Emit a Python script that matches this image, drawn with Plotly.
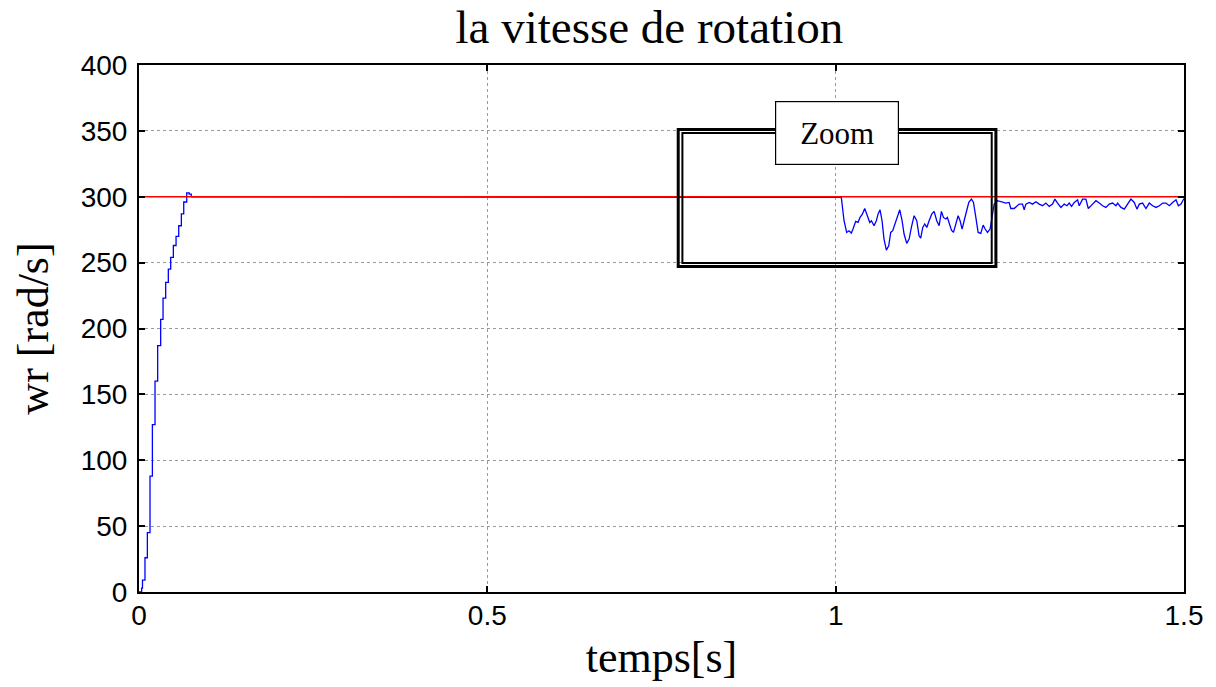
import plotly.graph_objects as go

# ---- data ----
rise_t = [0.0, 0.0038, 0.0050, 0.0086, 0.0120, 0.0158, 0.0192, 0.0230, 0.0268, 0.0311,
          0.0345, 0.0383, 0.0421, 0.0455, 0.0493, 0.0532, 0.0570, 0.0608, 0.0642, 0.0685,
          0.0720, 0.0750]
rise_v = [0, 3, 9, 26, 45, 88, 127, 160, 187, 207,
          223, 235, 245, 254, 263, 270, 278, 287, 296, 303,
          302, 300]

dist_t = [0.0750, 1.0000, 1.0048, 1.0081, 1.0120, 1.0158, 1.0192, 1.0225, 1.0249, 1.0287,
          1.0321, 1.0350, 1.0383, 1.0417, 1.0455, 1.0489, 1.0513, 1.0551, 1.0584, 1.0608,
          1.0637, 1.0666, 1.0694, 1.0728, 1.0762, 1.0790, 1.0819, 1.0848, 1.0886, 1.0920,
          1.0953, 1.0982, 1.1020, 1.1054, 1.1087, 1.1126, 1.1164, 1.1197, 1.1221, 1.1250,
          1.1279, 1.1308, 1.1341, 1.1379, 1.1413, 1.1451, 1.1485, 1.1518, 1.1547, 1.1581,
          1.1604, 1.1633, 1.1662, 1.1691, 1.1724, 1.1758, 1.1786, 1.1815, 1.1844, 1.1878,
          1.1911, 1.1949, 1.1978, 1.2012, 1.2045, 1.2083, 1.2117, 1.2146, 1.2179, 1.2217,
          1.2237]
dist_v = [300, 300, 300, 299.5, 281.8, 272.9, 274.2, 272.4, 275.5, 281.3,
          280.5, 284.3, 286.8, 291.1, 285.6, 280.5, 281.8, 278.0, 281.8, 286.8,
          290.1, 281.8, 267.9, 259.5, 262.8, 272.9, 274.2, 279.3, 285.6, 290.1,
          281.8, 271.7, 264.6, 267.9, 276.7, 285.6, 281.8, 270.4, 268.6, 276.7,
          279.3, 276.7, 281.8, 286.8, 288.9, 281.8, 278.0, 288.9, 284.3, 283.1,
          284.3, 278.8, 274.7, 272.9, 279.3, 285.6, 281.8, 275.5, 281.8, 289.4,
          295.7, 298.2, 295.7, 284.3, 272.9, 272.2, 278.5, 275.5, 272.9, 275.5,
          281.3]

tail_t = [1.2237, 1.2275, 1.2323, 1.2395, 1.2443, 1.2490, 1.2514, 1.2562, 1.2610, 1.2634,
          1.2682, 1.2706, 1.2730, 1.2778, 1.2826, 1.2874, 1.2921, 1.2969, 1.3017, 1.3065,
          1.3113, 1.3147, 1.3185, 1.3233, 1.3281, 1.3319, 1.3353, 1.3386, 1.3425, 1.3472,
          1.3496, 1.3544, 1.3592, 1.3626, 1.3688, 1.3736, 1.3784, 1.3831, 1.3879, 1.3927,
          1.3975, 1.4023, 1.4047, 1.4095, 1.4143, 1.4190, 1.4238, 1.4286, 1.4325, 1.4358,
          1.4406, 1.4454, 1.4502, 1.4550, 1.4598, 1.4646, 1.4694, 1.4741, 1.4789, 1.4837,
          1.4885, 1.4919, 1.4957, 1.5000]
tail_v = [281.3, 294.4, 297.0, 296.2, 295.2, 295.7, 291.1, 291.1, 293.2, 294.4,
          294.4, 290.1, 294.4, 295.7, 294.4, 296.2, 294.4, 293.2, 295.2, 292.7,
          294.4, 298.2, 295.2, 291.9, 294.4, 293.2, 295.2, 292.7, 295.7, 297.7,
          293.2, 298.2, 298.2, 291.1, 294.4, 297.0, 295.2, 293.2, 291.9, 294.4,
          295.2, 293.2, 295.2, 291.9, 290.6, 294.4, 298.2, 295.7, 290.6, 294.4,
          295.2, 291.1, 295.2, 293.2, 291.9, 293.2, 295.2, 295.2, 293.2, 295.7,
          297.7, 293.2, 294.4, 298.7]

ref_t = [0.0, 1.5]
ref_v = [300, 300]

x_ticks = [0, 0.5, 1, 1.5]
x_tick_labels = ["0", "0.5", "1", "1.5"]
y_ticks = [0, 50, 100, 150, 200, 250, 300, 350, 400]

# zoom box extents (data coords)
zoom_x = [0.774, 1.230]
zoom_y = [247, 351]
zoom_inner_x = [0.780, 1.224]
zoom_inner_y = [249.7, 348.3]

SERIF = "Liberation Serif, Times New Roman, serif"
SANS = "Liberation Sans, Arial, sans-serif"

fig = go.Figure()
fig.add_trace(go.Scatter(x=rise_t, y=rise_v, mode="lines", line=dict(color="#0000ff", width=1.3, shape="hv"), showlegend=False))
fig.add_trace(go.Scatter(x=dist_t + tail_t, y=dist_v + tail_v, mode="lines", line=dict(color="#0000ff", width=1.3), showlegend=False))
fig.add_trace(go.Scatter(x=ref_t, y=ref_v, mode="lines", line=dict(color="#ff0000", width=1.3), showlegend=False))

# double-lined zoom rectangle
fig.add_shape(type="rect", xref="x", yref="y", x0=zoom_x[0], x1=zoom_x[1], y0=zoom_y[0], y1=zoom_y[1],
              line=dict(color="black", width=3), layer="above")
fig.add_shape(type="rect", xref="x", yref="y", x0=zoom_inner_x[0], x1=zoom_inner_x[1],
              y0=zoom_inner_y[0], y1=zoom_inner_y[1], line=dict(color="black", width=2), layer="above")

fig.add_annotation(x=(zoom_x[0] + zoom_x[1]) / 2, y=350.5, xref="x", yref="y", text="Zoom",
                   showarrow=False, bgcolor="white", bordercolor="black", borderwidth=1.2,
                   width=120, height=60, yshift=-3,
                   font=dict(family=SERIF, size=31, color="black"))

axis_common = dict(showline=True, linecolor="black", linewidth=2, mirror="ticks",
                   ticks="inside", ticklen=6, tickcolor="black", tickwidth=2,
                   showgrid=True, gridcolor="#9a9a9a", griddash="dot", gridwidth=1,
                   zeroline=False,
                   tickfont=dict(family=SANS, size=28, color="black"))

fig.update_xaxes(range=[0, 1.5], tickvals=x_ticks, ticktext=x_tick_labels, ticklabelstandoff=-3,
                 title=dict(text="temps[s]", font=dict(family=SERIF, size=44, color="black"), standoff=12),
                 **axis_common)
fig.update_yaxes(range=[0, 400], tickvals=y_ticks, ticklabelstandoff=4,
                 title=dict(text="wr [rad/s]", font=dict(family=SERIF, size=44, color="black"), standoff=18),
                 **axis_common)

fig.update_layout(
    width=1216, height=687,
    paper_bgcolor="white", plot_bgcolor="white",
    margin=dict(l=139, r=32, t=65, b=95),
    title=dict(text="la vitesse de rotation", x=0.534, xanchor="center", y=0.962, yanchor="middle",
               font=dict(family=SERIF, size=47, color="black")),
)

fig.write_html("out.html", config={"displayModeBar": False},
               post_script="document.body.style.margin='0';document.body.style.overflow='hidden';")
